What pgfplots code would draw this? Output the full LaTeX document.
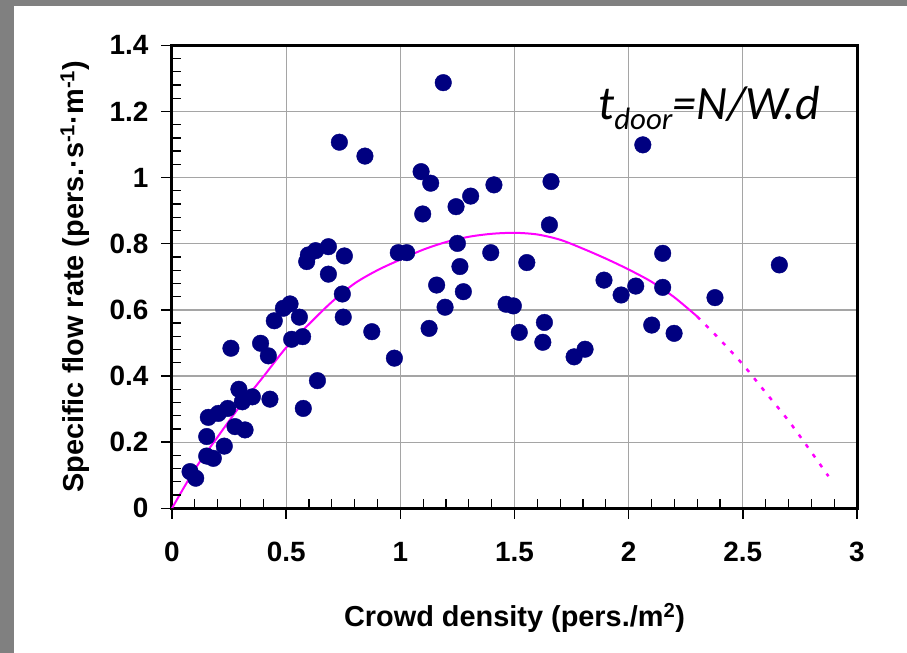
\documentclass[border=0pt]{standalone}
\usepackage{fontspec}
\setmainfont{Liberation Sans}
\newfontfamily\carlito{Carlito}
\usepackage{pgfplots}
\pgfplotsset{compat=1.18}
\definecolor{dotblue}{RGB}{0,0,128}
\definecolor{fitpink}{RGB}{255,0,255}
\definecolor{bordergray}{RGB}{128,128,128}
\definecolor{gridgray}{RGB}{165,165,165}

\begin{document}
\begin{tikzpicture}
% page frame: grey strip on the left and at the top
\path[use as bounding box] (-172bp,-144.7bp) rectangle (735bp,508.3bp);
\fill[bordergray] (-172bp,-144.7bp) rectangle (735bp,508.3bp);
\fill[white] (-158bp,-144.7bp) rectangle (735bp,502.3bp);
\begin{axis}[
    at={(0,0)}, anchor=south west,
    scale only axis,
    width=685bp, height=463bp,
    xmin=0, xmax=3,
    ymin=0, ymax=1.4,
    clip=false,
    xtick={0,0.5,1,1.5,2,2.5,3},
    ytick={0,0.2,0.4,0.6,0.8,1,1.2,1.4},
    yticklabels={0,0.2,0.4,0.6,0.8,1,1.2,1.4},
    xticklabels={0,0.5,1,1.5,2,2.5,3},
    xtick pos=left, ytick pos=left,
    major tick length=0pt,
    axis line style={black, line width=3bp},
    xmajorgrids, ymajorgrids,
    major grid style={gridgray, line width=1.3bp},
    /pgf/number format/assume math mode=true,
    tick label style={font=\fontsize{28}{28}\selectfont\bfseries},
    xticklabel style={yshift=-30bp},
    yticklabel style={xshift=-20bp},
    label style={font=\fontsize{29}{29}\selectfont\bfseries},
    xlabel={Crowd density (pers./m\textsuperscript{2})},
    ylabel={Specific flow rate (pers.·s\textsuperscript{-1}·m\textsuperscript{-1})},
    xlabel style={at={(axis description cs:0.5,-0.2376)}, anchor=center},
    ylabel style={at={(axis description cs:-0.1416,0.5)}, anchor=center},
]
% fitted curve, solid part
\addplot[fitpink, line width=2bp, smooth] coordinates {
    (0,0) (0.1,0.118) (0.2,0.216) (0.3,0.311) (0.4,0.398) (0.5,0.486)
    (0.6,0.557) (0.7,0.624) (0.8,0.680) (0.9,0.720) (1.0,0.752) (1.1,0.782)
    (1.2,0.805) (1.3,0.821) (1.4,0.830) (1.5,0.833) (1.6,0.828) (1.7,0.812)
    (1.8,0.785) (1.9,0.755) (2.0,0.722) (2.1,0.685) (2.2,0.638) (2.3,0.580)
};
% fitted curve, dotted extension
\addplot[fitpink, line width=2.5bp, smooth, dash pattern=on 4bp off 8bp] coordinates {
    (2.3,0.580) (2.4,0.510) (2.5,0.435) (2.6,0.350) (2.7,0.265) (2.8,0.170) (2.875,0.097)
};
% measured points
\addplot[only marks, mark=*, mark size=8.3bp, mark options={fill=dotblue, draw=dotblue}] coordinates {
    (0.079,0.111) (0.104,0.091) (0.152,0.217) (0.152,0.158) (0.181,0.151)
    (0.229,0.188) (0.159,0.275) (0.203,0.287) (0.244,0.302) (0.276,0.247)
    (0.320,0.237) (0.293,0.360) (0.308,0.322) (0.352,0.337) (0.429,0.330)
    (0.258,0.484) (0.388,0.499) (0.422,0.461) (0.448,0.567) (0.488,0.605)
    (0.517,0.618) (0.558,0.578) (0.524,0.511) (0.572,0.519) (0.637,0.386)
    (0.575,0.302) (0.590,0.746) (0.597,0.766) (0.629,0.779) (0.685,0.791)
    (0.755,0.763) (0.685,0.708) (0.746,0.648) (0.750,0.578) (0.875,0.534)
    (0.974,0.454) (0.991,0.773) (1.028,0.773) (1.188,1.287) (0.733,1.107)
    (0.845,1.065) (1.091,1.018) (1.133,0.983) (1.098,0.890) (1.244,0.912)
    (1.308,0.944) (1.410,0.978) (1.250,0.801) (1.261,0.731) (1.396,0.773)
    (1.159,0.675) (1.196,0.608) (1.126,0.544) (1.276,0.655) (2.062,1.099)
    (1.660,0.988) (1.653,0.857) (2.149,0.771) (2.660,0.736) (1.554,0.743)
    (1.463,0.617) (1.495,0.612) (1.521,0.532) (1.631,0.562) (1.624,0.502)
    (1.761,0.458) (1.809,0.481) (1.892,0.690) (1.967,0.645) (2.031,0.672)
    (2.149,0.668) (2.101,0.554) (2.199,0.529) (2.378,0.637)
};
% tick marks: majors outside, minors inside
\pgfplotsinvokeforeach{0,0.5,1,1.5,2,2.5,3}{
    \draw[black, line width=1.5bp] (axis cs:#1,0) -- ++(0,-11bp);
}
\pgfplotsinvokeforeach{0,0.2,0.4,0.6,0.8,1,1.2,1.4}{
    \draw[black, line width=1.5bp] (axis cs:0,#1) -- ++(-11bp,0);
}
\pgfplotsinvokeforeach{0.1,0.2,0.3,0.4,0.6,0.7,0.8,0.9,1.1,1.2,1.3,1.4,1.6,1.7,1.8,1.9,2.1,2.2,2.3,2.4,2.6,2.7,2.8,2.9}{
    \draw[black, line width=1.3bp] (axis cs:#1,0) -- ++(0,9bp);
}
\pgfplotsinvokeforeach{0.04,0.08,0.12,0.16,0.24,0.28,0.32,0.36,0.44,0.48,0.52,0.56,0.64,0.68,0.72,0.76,0.84,0.88,0.92,0.96,1.04,1.08,1.12,1.16,1.24,1.28,1.32,1.36}{
    \draw[black, line width=1.3bp] (axis cs:0,#1) -- ++(9bp,0);
}
\node[anchor=base west, inner sep=0pt] at (axis cs:1.866,1.177)
    {\carlito\itshape\fontsize{48}{48}\selectfont t\raisebox{-10bp}{\fontsize{31}{31}\selectfont door}=N/W.d};
\end{axis}
\end{tikzpicture}
\end{document}
